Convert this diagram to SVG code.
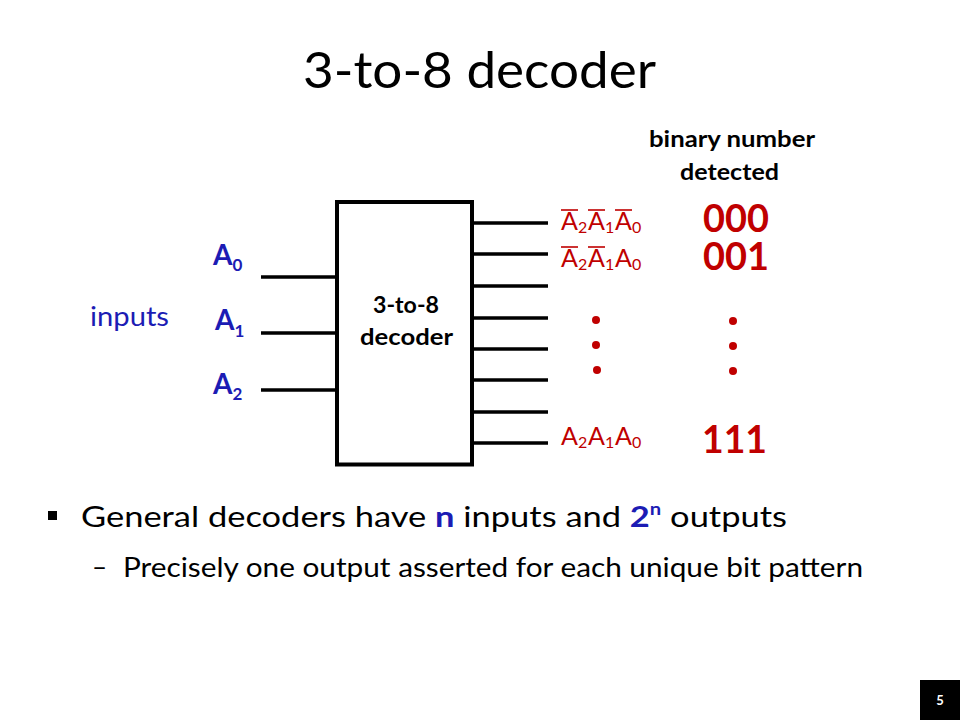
<svg xmlns="http://www.w3.org/2000/svg" width="960" height="720" viewBox="0 0 960 720">
<style>
text{font-family:Lato,"Open Sans","Liberation Sans",sans-serif}
.wire{stroke:#000;stroke-width:3.5;fill:none}
.red{fill:#c00000}
.blue{fill:#1c1cb4}
.bold{font-weight:bold}
.expr{font-size:25px;fill:#c00000}
.sub{font-size:16px}
.bar{stroke:#c00000;stroke-width:1.6}
.big{font-size:39px;font-weight:bold;fill:#c00000}
.inlbl{font-size:28px;font-weight:bold;fill:#1c1cb4}
.insub{font-size:17px}
</style>
<rect width="960" height="720" fill="#fff"/>

<g id="title">
<text x="303" y="88" font-size="50" textLength="353" lengthAdjust="spacingAndGlyphs">3-to-8 decoder</text>
</g>

<g id="connectors">
<line class="wire" x1="261" y1="277" x2="337" y2="277"/>
<line class="wire" x1="261" y1="333" x2="337" y2="333"/>
<line class="wire" x1="261" y1="390" x2="337" y2="390"/>
<line class="wire" x1="472" y1="223" x2="548" y2="223"/>
<line class="wire" x1="472" y1="254" x2="548" y2="254"/>
<line class="wire" x1="472" y1="286" x2="548" y2="286"/>
<line class="wire" x1="472" y1="318" x2="548" y2="318"/>
<line class="wire" x1="472" y1="349" x2="548" y2="349"/>
<line class="wire" x1="472" y1="380" x2="548" y2="380"/>
<line class="wire" x1="472" y1="412" x2="548" y2="412"/>
<line class="wire" x1="472" y1="443" x2="548" y2="443"/>
</g>

<g id="decoder">
<rect x="337" y="202" width="135" height="262.5" fill="#fff" stroke="#000" stroke-width="4"/>
<text x="373" y="313" font-size="22" class="bold" textLength="66" lengthAdjust="spacingAndGlyphs">3-to-8</text>
<text x="360" y="345" font-size="22" class="bold" textLength="93" lengthAdjust="spacingAndGlyphs">decoder</text>
</g>

<g id="inputs-label">
<text x="90" y="326" font-size="26" class="blue" textLength="79" lengthAdjust="spacingAndGlyphs">inputs</text>
</g>

<g id="input-A0"><text x="213" y="265" class="inlbl">A<tspan class="insub" dy="6">0</tspan></text></g>
<g id="input-A1"><text x="215" y="330" class="inlbl">A<tspan class="insub" dy="7">1</tspan></text></g>
<g id="input-A2"><text x="213" y="394" class="inlbl">A<tspan class="insub" dy="6">2</tspan></text></g>

<g id="out-000">
<text x="561" y="230" class="expr">A<tspan class="sub" dy="3">2</tspan></text>
<text x="588" y="230" class="expr">A<tspan class="sub" dy="3">1</tspan></text>
<text x="615" y="230" class="expr">A<tspan class="sub" dy="3">0</tspan></text>
<line class="bar" x1="561" y1="210" x2="578" y2="210"/>
<line class="bar" x1="588" y1="210" x2="605" y2="210"/>
<line class="bar" x1="615" y1="210" x2="632" y2="210"/>
<text x="703" y="232" class="big" textLength="66" lengthAdjust="spacingAndGlyphs">000</text>
</g>

<g id="out-001">
<text x="561" y="267" class="expr">A<tspan class="sub" dy="3">2</tspan></text>
<text x="588" y="267" class="expr">A<tspan class="sub" dy="3">1</tspan></text>
<text x="615" y="267" class="expr">A<tspan class="sub" dy="3">0</tspan></text>
<line class="bar" x1="561" y1="247" x2="578" y2="247"/>
<line class="bar" x1="588" y1="247" x2="605" y2="247"/>
<text x="703" y="270" class="big" textLength="66" lengthAdjust="spacingAndGlyphs">001</text>
</g>

<g id="out-111">
<text x="561" y="445" class="expr">A<tspan class="sub" dy="3">2</tspan></text>
<text x="588" y="445" class="expr">A<tspan class="sub" dy="3">1</tspan></text>
<text x="615" y="445" class="expr">A<tspan class="sub" dy="3">0</tspan></text>
<text x="702" y="453" class="big" textLength="65" lengthAdjust="spacingAndGlyphs">111</text>
</g>

<g id="ellipsis" class="red">
<circle cx="596" cy="320" r="4"/>
<circle cx="596" cy="345" r="4"/>
<circle cx="597" cy="370" r="4"/>
<circle cx="733" cy="321" r="4"/>
<circle cx="733" cy="346" r="4"/>
<circle cx="733" cy="371" r="4"/>
</g>

<g id="header">
<text x="649" y="147" font-size="22" class="bold" textLength="166" lengthAdjust="spacingAndGlyphs">binary number</text>
<text x="680" y="180" font-size="22" class="bold" textLength="99" lengthAdjust="spacingAndGlyphs">detected</text>
</g>

<g id="bullets">
<rect x="48" y="511" width="9" height="9" fill="#000"/>
<text x="81" y="527" font-size="29" textLength="706" lengthAdjust="spacingAndGlyphs">General decoders have <tspan class="blue bold">n</tspan> inputs and <tspan class="blue bold">2</tspan><tspan class="blue bold" font-size="17" dy="-12">n</tspan><tspan dy="12"> outputs</tspan></text>
<text x="92" y="576" font-size="26">–</text>
<text x="123" y="577" font-size="26" textLength="740" lengthAdjust="spacingAndGlyphs">Precisely one output asserted for each unique bit pattern</text>
</g>

<g id="page-number">
<rect x="920" y="680" width="40" height="40" fill="#000"/>
<text x="940" y="705" font-size="13" class="bold" fill="#fff" text-anchor="middle">5</text>
</g>
</svg>
